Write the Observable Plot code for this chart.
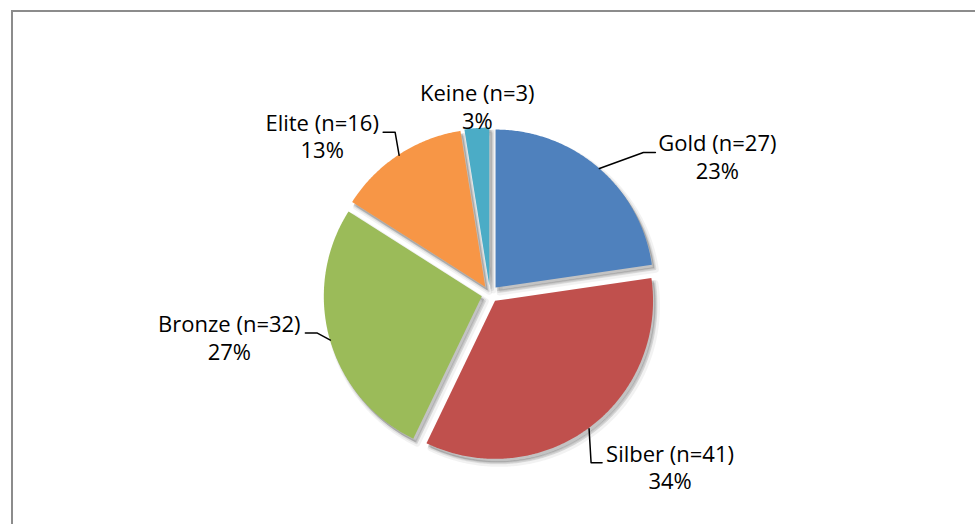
<!DOCTYPE html>
<html>
<head>
<meta charset="utf-8">
<script src="https://cdn.jsdelivr.net/npm/d3@7"></script>
<script src="https://cdn.jsdelivr.net/npm/@observablehq/plot@0.6"></script>
<style>
  html, body { margin: 0; padding: 0; background: #fff; overflow: hidden; }
  #wrap { position: relative; width: 975px; height: 524px; overflow: hidden; }
  #frame { position: absolute; left: 11px; top: 10px; width: 1000px; height: 600px; border: 2px solid #8c8c8c; box-sizing: border-box; }
  #chart { position: absolute; left: 0; top: 0; }
</style>
</head>
<body>
<div id="wrap"><div id="frame"></div><div id="chart"></div></div>
<script>
// ---- data ----
const categories = ["Gold", "Silber", "Bronze", "Elite", "Keine"];
const counts = [27, 41, 32, 16, 3];
const percentLabels = ["23%", "34%", "27%", "13%", "3%"];
const colors = ["#4F81BD", "#C0504D", "#9BBB59", "#F79646", "#4BACC6"];

// ---- layout (pixels) ----
const W = 975, H = 524;
const cx = 490, cy = 294, R = 158, explode = 8.5;
// offsets relative to the slice's outer mid-point
const leaderElbows = [[44, -16], [2, 34], [-13, -7], [-4, -23], null];
const leaderEnds = [[56, -16], [13, 34], [-25, -7], [-16, -23], null];
const labelOffsets = [[118, -24.5], [81, 26], [-101, -15], [-77, -31.5], [0, -34.5]];
const lineGap = 27.5;

const arcs = d3.pie().sort(null)(counts);

const slicePoints = [];
const leaderPoints = [];
const labelRows = [];
arcs.forEach((a, i) => {
  const mid = (a.startAngle + a.endAngle) / 2;
  const ox = cx + explode * Math.sin(mid), oy = cy - explode * Math.cos(mid);
  const n = Math.max(8, Math.ceil((a.endAngle - a.startAngle) / 0.01));
  for (let k = 0; k <= n; k++) {
    const t = a.startAngle + (a.endAngle - a.startAngle) * k / n;
    slicePoints.push({cat: categories[i], ax: ox, ay: oy, x: ox + R * Math.sin(t), y: oy - R * Math.cos(t)});
  }
  const ex = ox + R * Math.sin(mid), ey = oy - R * Math.cos(mid);
  if (leaderElbows[i]) {
    leaderPoints.push({cat: categories[i], x: ex, y: ey});
    leaderPoints.push({cat: categories[i], x: ex + leaderElbows[i][0], y: ey + leaderElbows[i][1]});
    leaderPoints.push({cat: categories[i], x: ex + leaderEnds[i][0], y: ey + leaderEnds[i][1]});
  }
  labelRows.push({x: ex + labelOffsets[i][0], y: ey + labelOffsets[i][1], text: `${categories[i]} (n=${counts[i]})`});
  labelRows.push({x: ex + labelOffsets[i][0], y: ey + labelOffsets[i][1] + lineGap, text: percentLabels[i]});
});

// soft shadow approximated by stacked translucent layers
const shadowLayers = [
  {dx: 4, dy: 5, w: 6, o: 0.05},
  {dx: 3, dy: 4, w: 3, o: 0.08},
  {dx: 2, dy: 3, w: 0.5, o: 0.12}
];
const shadowMarks = shadowLayers.map(s =>
  Plot.area(slicePoints, {x1: "ax", y1: "ay", x2: "x", y2: "y", z: "cat", fill: "#000", fillOpacity: s.o,
    stroke: "#000", strokeOpacity: s.o, strokeWidth: s.w, strokeLinejoin: "round", dx: s.dx, dy: s.dy})
);

const chart = Plot.plot({
  width: W,
  height: H,
  margin: 0,
  x: {domain: [0, W], range: [0, W], axis: null},
  y: {domain: [0, H], range: [0, H], axis: null},
  color: {domain: categories, range: colors},
  style: {background: "transparent", fontFamily: "'Open Sans', sans-serif", overflow: "visible"},
  marks: [
    ...shadowMarks,
    Plot.area(slicePoints, {x1: "ax", y1: "ay", x2: "x", y2: "y", z: "cat", fill: "cat"}),
    Plot.line(leaderPoints, {x: "x", y: "y", z: "cat", stroke: "#000", strokeWidth: 1.5, curve: "linear"}),
    Plot.text(labelRows, {x: "x", y: "y", text: "text", fill: "#000", fontSize: 22, textAnchor: "middle"})
  ]
});
document.getElementById("chart").appendChild(chart);
</script>
</body>
</html>
